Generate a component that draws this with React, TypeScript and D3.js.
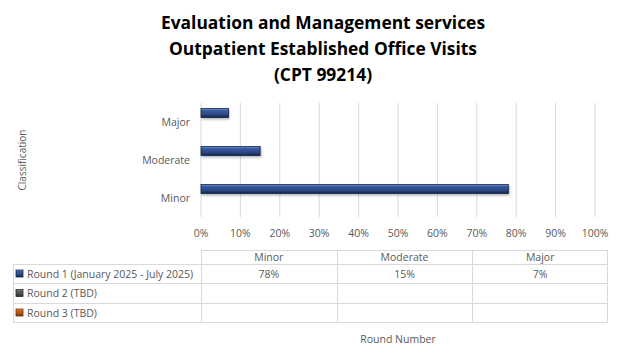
import React from 'react';
import * as d3 from 'd3';

const categories = ['Major', 'Moderate', 'Minor'];
const tableCategories = ['Minor', 'Moderate', 'Major'];
const seriesNames = ['Round 1 (January 2025 - July 2025)', 'Round 2 (TBD)', 'Round 3 (TBD)'];
const round1 = [0.78, 0.15, 0.07]; // Minor, Moderate, Major
const round2: (number | null)[] = [null, null, null];
const round3: (number | null)[] = [null, null, null];
const xTicks = [0, 0.1, 0.2, 0.3, 0.4, 0.5, 0.6, 0.7, 0.8, 0.9, 1];
const titleLines = [
  'Evaluation and Management services',
  'Outpatient Established Office Visits',
  '(CPT 99214)',
];

const allSeries = [round1, round2, round3];
const seriesColors = [
  ['#87a5e0', '#3a5ba2', '#2b4884', '#12224a'],
  ['#a0a0a0', '#606060', '#4a4a4a', '#2a2a2a'],
  ['#f5a060', '#d0621a', '#b0500e', '#6e3005'],
];

const W = 621;
const H = 364;
const font = "'Open Sans', 'Liberation Sans', sans-serif";
const labelColor = '#595959';

export default function App() {
  const x = d3.scaleLinear().domain([0, 1]).range([201, 595]);
  const y = d3.scaleBand().domain(categories).range([103, 217]).paddingInner(0).paddingOuter(0);
  const sub = d3
    .scaleBand()
    .domain(['0', '1', '2'])
    .range([0, y.bandwidth()])
    .paddingInner(0)
    .paddingOuter(0.61);

  const cols = d3.scaleBand().domain(tableCategories).range([201, 608]);
  const rowTops = [264, 283, 303];
  const rowBottom = 322;

  return (
    <svg width={W} height={H} style={{ display: 'block', position: 'absolute', left: 0, top: 0 }}>
      <defs>
        {seriesColors.map((c, i) => (
          <linearGradient key={i} id={'bar' + i} x1="0" y1="0" x2="0" y2="1">
            <stop offset="0" stopColor={c[0]} />
            <stop offset="0.2" stopColor={c[1]} />
            <stop offset="0.65" stopColor={c[2]} />
            <stop offset="1" stopColor={c[3]} />
          </linearGradient>
        ))}
        <filter id="shadow" x="-5%" y="-30%" width="110%" height="180%">
          <feDropShadow dx="1" dy="1.5" stdDeviation="1" floodColor="#000" floodOpacity="0.3" />
        </filter>
      </defs>
      <rect width={W} height={H} fill="#fff" />

      {titleLines.map((t, i) => (
        <text
          key={i}
          x={323}
          y={29 + i * 26}
          textAnchor="middle"
          fontFamily={font}
          fontWeight="bold"
          fontSize={17.4}
          fill="#000"
        >
          {t}
        </text>
      ))}

      {/* gridlines */}
      {xTicks.map((t) => (
        <line key={t} x1={x(t)} x2={x(t)} y1={103} y2={217} stroke="#d9d9d9" strokeWidth={1} />
      ))}
      {xTicks.map((t) => (
        <text
          key={'l' + t}
          x={x(t)}
          y={237}
          textAnchor="middle"
          fontFamily={font}
          fontSize={10.5}
          fill={labelColor}
        >
          {d3.format('.0%')(t)}
        </text>
      ))}

      {/* category labels */}
      {categories.map((c) => (
        <text
          key={c}
          x={190}
          y={(y(c) as number) + y.bandwidth() / 2 + 4}
          textAnchor="end"
          fontFamily={font}
          fontSize={10.5}
          fill={labelColor}
        >
          {c}
        </text>
      ))}
      <text
        transform="translate(26,160) rotate(-90)"
        textAnchor="middle"
        fontFamily={font}
        fontSize={10}
        fill={labelColor}
      >
        Classification
      </text>

      {/* bars */}
      {allSeries.map((s, si) =>
        tableCategories.map((c, ci) => {
          const v = s[ci];
          if (v == null) return null;
          const yy = (y(c) as number) + (sub(String(si)) as number);
          return (
            <rect
              key={si + c}
              x={x(0)}
              y={yy}
              width={x(v) - x(0)}
              height={sub.bandwidth()}
              fill={'url(#bar' + si + ')'}
              stroke={seriesColors[si][3]}
              strokeWidth={0.8}
              filter="url(#shadow)"
            />
          );
        })
      )}

      {/* data table */}
      <g stroke="#d9d9d9" strokeWidth={1} fill="none">
        <line x1={201} x2={608} y1={250.5} y2={250.5} />
        {rowTops.map((r) => (
          <line key={r} x1={13} x2={608} y1={r + 0.5} y2={r + 0.5} />
        ))}
        <line x1={13} x2={608} y1={rowBottom + 0.5} y2={rowBottom + 0.5} />
        <line x1={13.5} x2={13.5} y1={264} y2={rowBottom} />
        {tableCategories.map((c) => (
          <line
            key={c}
            x1={Math.round(cols(c) as number) + 0.5}
            x2={Math.round(cols(c) as number) + 0.5}
            y1={250}
            y2={rowBottom}
          />
        ))}
        <line x1={607.5} x2={607.5} y1={250} y2={rowBottom} />
      </g>
      {tableCategories.map((c) => (
        <text
          key={'h' + c}
          x={(cols(c) as number) + cols.bandwidth() / 2}
          y={261}
          textAnchor="middle"
          fontFamily={font}
          fontSize={10.5}
          fill={labelColor}
        >
          {c}
        </text>
      ))}
      {seriesNames.map((n, si) => {
        const top = rowTops[si];
        const bot = si < 2 ? rowTops[si + 1] : rowBottom;
        const cy = (top + bot) / 2;
        return (
          <g key={n}>
            <rect
              x={16}
              y={cy - 3.5}
              width={7}
              height={7}
              fill={'url(#bar' + si + ')'}
              stroke={seriesColors[si][3]}
              strokeWidth={0.8}
            />
            <text x={27} y={cy + 4} fontFamily={font} fontSize={10.5} fill={labelColor}>
              {n}
            </text>
            {allSeries[si].map((v, ci) =>
              v == null ? null : (
                <text
                  key={ci}
                  x={(cols(tableCategories[ci]) as number) + cols.bandwidth() / 2}
                  y={cy + 4}
                  textAnchor="middle"
                  fontFamily={font}
                  fontSize={10.5}
                  fill={labelColor}
                >
                  {d3.format('.0%')(v)}
                </text>
              )
            )}
          </g>
        );
      })}

      <text x={398} y={343} textAnchor="middle" fontFamily={font} fontSize={10.5} fill={labelColor}>
        Round Number
      </text>
    </svg>
  );
}
